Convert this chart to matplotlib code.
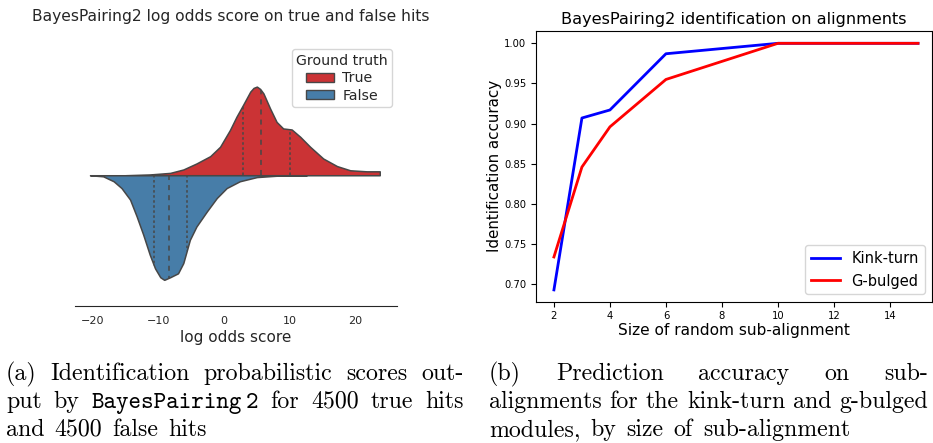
import numpy as np
import matplotlib
matplotlib.use("Agg")
import matplotlib.pyplot as plt
from matplotlib.patches import Patch

# --- (a) split violin, half widths ---
true_x = [-15, -11.3, -8.2, -6.2, -4.2, -2.1, -0.6, 0.9, 1.9, 2.9, 4.0, 4.5, 5.0,
          5.5, 6.0, 7.0, 8.0, 9.0, 10.3, 11.6, 13.1, 15.1, 17.2, 19.2, 21.7, 23.7]
true_w = [0, 0.003, 0.009, 0.022, 0.045, 0.073, 0.109, 0.173, 0.224, 0.269, 0.320, 0.334, 0.339,
          0.330, 0.313, 0.256, 0.204, 0.179, 0.175, 0.147, 0.109, 0.064, 0.035, 0.019, 0.015, 0.015]
false_x = [-20.4, -18.4, -16.8, -15.6, -14.3, -13.3, -12.3, -11.3, -10.5, -9.7, -9.1, -8.2,
           -7.0, -6.2, -5.2, -4.2, -2.6, -1.1, 0.4, 2.4, 5.0, 8.5, 12.6]
false_w = [0, 0.004, 0.023, 0.049, 0.093, 0.157, 0.227, 0.304, 0.356, 0.390, 0.400, 0.390,
           0.375, 0.336, 0.247, 0.196, 0.138, 0.087, 0.049, 0.023, 0.007, 0.001, 0]
true_q = [2.84, 5.58, 10.05]
false_q = [-10.65, -8.3, -5.7]

# --- (b) accuracy vs sub-alignment size ---
sizes = [2, 3, 4, 6, 10, 15]
kink_turn = [0.693, 0.907, 0.917, 0.987, 1.0, 1.0]
g_bulged = [0.734, 0.846, 0.896, 0.955, 1.0, 1.0]

red = "#CB3335"
blue = "#477DA8"
gray = "#474747"

W, H = 933, 443
fig = plt.figure(figsize=(W / 100, H / 100), dpi=100)


def box(l, t, r, b):
    return [l / W, 1 - b / H, (r - l) / W, (b - t) / H]


# left panel
ax1 = fig.add_axes(box(75, 44.5, 397, 306))
lw = 1.1
ax1.fill_between(true_x, 0, true_w, facecolor=red, edgecolor=gray, linewidth=lw, zorder=2)
ax1.fill_between(false_x, 0, np.negative(false_w), facecolor=blue, edgecolor=gray,
                 linewidth=lw, zorder=2)
for i, q in enumerate(true_q):
    d = [lw * 3] * 2 if i == 1 else [lw * 1.5] * 2
    ax1.plot([q, q], [0, np.interp(q, true_x, true_w)], color=gray, lw=lw, dashes=d, zorder=3)
for i, q in enumerate(false_q):
    d = [lw * 3] * 2 if i == 1 else [lw * 1.5] * 2
    ax1.plot([q, q], [0, -np.interp(q, false_x, false_w)], color=gray, lw=lw, dashes=d, zorder=3)
ax1.set_xlim(-22.68, 26.33)
ax1.set_ylim(-0.5, 0.5)
ax1.set_xticks([-20, -10, 0, 10, 20])
ax1.set_yticks([])
for s in ["left", "top", "right"]:
    ax1.spines[s].set_visible(False)
ax1.spines["bottom"].set_color(".15")
ax1.tick_params(axis="x", length=0, pad=7, labelsize=8, labelcolor=".15")
ax1.set_xlabel("log odds score", fontsize=11, color=".15", labelpad=3)
fig.text(231 / W, 1 - 17 / H, "BayesPairing2 log odds score on true and false hits",
         ha="center", va="center", fontsize=11.2, color=".15")
handles = [Patch(facecolor=red, edgecolor=gray, label="True"),
           Patch(facecolor=blue, edgecolor=gray, label="False")]
leg1 = ax1.legend(handles=handles, title="Ground truth", loc="upper right", fontsize=10.2,
                  title_fontsize=10.2, frameon=True, fancybox=True, labelspacing=0.25,
                  borderaxespad=0.35, borderpad=0.3, handleheight=0.6, handletextpad=0.6)
leg1.get_frame().set_edgecolor(".8")
for t in leg1.get_texts():
    t.set_color(".15")
leg1.get_title().set_color(".15")

# right panel
ax2 = fig.add_axes(box(536, 30.7, 932, 301.7))
ax2.plot(sizes, kink_turn, color="blue", lw=2, label="Kink-turn")
ax2.plot(sizes, g_bulged, color="red", lw=2, label="G-bulged")
ax2.set_xlim(1.36, 15.5)
ax2.set_ylim(0.6783, 1.0157)
ax2.set_xticks([2, 4, 6, 8, 10, 12, 14])
ax2.set_yticks([0.70, 0.75, 0.80, 0.85, 0.90, 0.95, 1.00])
ax2.tick_params(labelsize=7.2)
ax2.set_title("BayesPairing2 identification on alignments", fontsize=11.6, pad=5)
ax2.set_xlabel("Size of random sub-alignment", fontsize=11.1, labelpad=1)
ax2.set_ylabel("Identification accuracy", fontsize=10.9, labelpad=1.5)
ax2.legend(loc="lower right", fontsize=10.5)

# captions, justified like the LaTeX source
renderer = fig.canvas.get_renderer()
rm, tt = "cmr10", "cmtt10"
cap_size = 17.2


def text_width(s, fam):
    t = fig.text(0, 0, s, fontsize=cap_size, family=fam)
    wd = t.get_window_extent(renderer).width
    t.remove()
    return wd


space = (text_width("a a", rm) - text_width("aa", rm)) * 1.25


def caption_line(words, x0, x1, y, justify=True):
    # words: list of lists of (text, family) segments
    arts = []
    widths = []
    for w in words:
        segs = []
        wd = 0
        for j, (txt, fam) in enumerate(w):
            t = fig.text(0, 0, txt, fontsize=cap_size, family=fam, va="baseline", ha="left")
            sw = t.get_window_extent(renderer).width
            segs.append((t, wd))
            wd += sw + (space * 0.4 if j < len(w) - 1 else 0)
        arts.append(segs)
        widths.append(wd)
    if justify and len(words) > 1:
        gap = (x1 - x0 - sum(widths)) / (len(words) - 1)
    else:
        gap = space
    x = x0
    for segs, wd in zip(arts, widths):
        for t, off in segs:
            t.set_position(((x + off) / W, 1 - y / H))
        x += wd + gap


def plain(s):
    return [[(w, rm)] for w in s.split()]


caption_line(plain("(a) Identification probabilistic scores out-"), 6, 464, 380)
caption_line([[("put", rm)], [("by", rm)], [("BayesPairing", tt), ("2", tt)]] +
             plain("for 4500 true hits"), 6, 464, 408)
caption_line(plain("and 4500 false hits"), 6, 464, 436, justify=False)
caption_line(plain("(b) Prediction accuracy on sub-"), 489, 928, 380)
caption_line(plain("alignments for the kink-turn and g-bulged"), 489, 928, 408)
caption_line(plain("modules, by size of sub-alignment"), 489, 928, 436, justify=False)

fig.savefig("out.png", dpi=100)
